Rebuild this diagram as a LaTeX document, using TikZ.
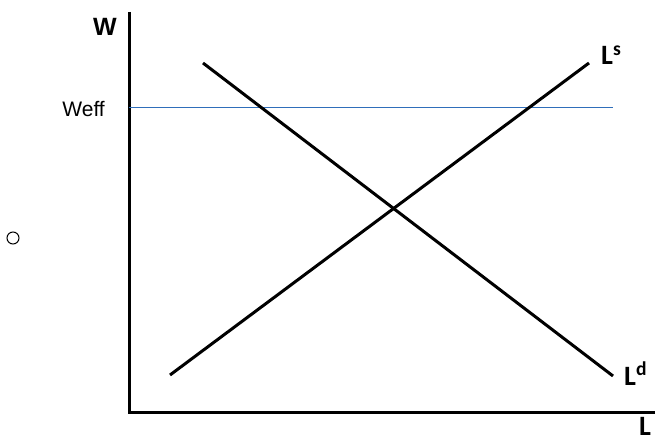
\documentclass[tikz,border=0pt]{standalone}
\usepackage{fontspec}
\setmainfont{Liberation Sans}
\newfontfamily\calib{Carlito}
\usepackage{tikz}
\usetikzlibrary{positioning}
\definecolor{ink}{HTML}{000000}
\definecolor{effline}{HTML}{2F6EBA}
\tikzset{
  axis/.style={draw=ink, line width=3pt},
  curve/.style={draw=ink, line width=3pt},
  effw/.style={draw=effline, line width=0.9pt},
  lab/.style={font=\calib\bfseries\fontsize{28}{30}\selectfont, inner sep=0pt},
  axlab/.style={font=\bfseries\fontsize{25}{27}\selectfont, inner sep=0pt},
  txt/.style={font=\fontsize{21}{23}\selectfont, inner sep=0pt},
}
\begin{document}
\begin{tikzpicture}[x=1pt, y=-1pt]
  \useasboundingbox (0,0) rectangle (655,443);

  % --- axes ---
  \coordinate (orig) at (129,412);
  \coordinate (ytop) at (129,12);
  \coordinate (xend) at (655,412);
  \draw[axis] (ytop) -- (orig) -- (xend);
  \node[axlab] (wlab) at (105,27) {W};
  \node[lab, anchor=base west] (llab) at (639,435) {L};

  % --- efficiency wage line ---
  \coordinate (effa) at (129,107);
  \coordinate (effb) at (613,107);
  \draw[effw] (effa) -- (effb);
  \node[txt, anchor=east] (wefflab) at (105,109) {Weff};

  % --- demand and supply ---
  \coordinate (lda) at (203,63);
  \coordinate (ldb) at (613,376);
  \draw[curve] (lda) -- (ldb);
  \coordinate (lsa) at (170,375);
  \coordinate (lsb) at (589,63);
  \draw[curve] (lsa) -- (lsb);
  \node[lab, anchor=base west] (lslab) at (601,65) {L\textsuperscript{s}};
  \node[lab, anchor=base west] (ldlab) at (624,385) {L\textsuperscript{d}};

  % --- bullet ---
  \node[draw=ink, circle, line width=1pt, minimum size=12pt, inner sep=0pt] (dot) at (13,238) {};
\end{tikzpicture}
\end{document}
